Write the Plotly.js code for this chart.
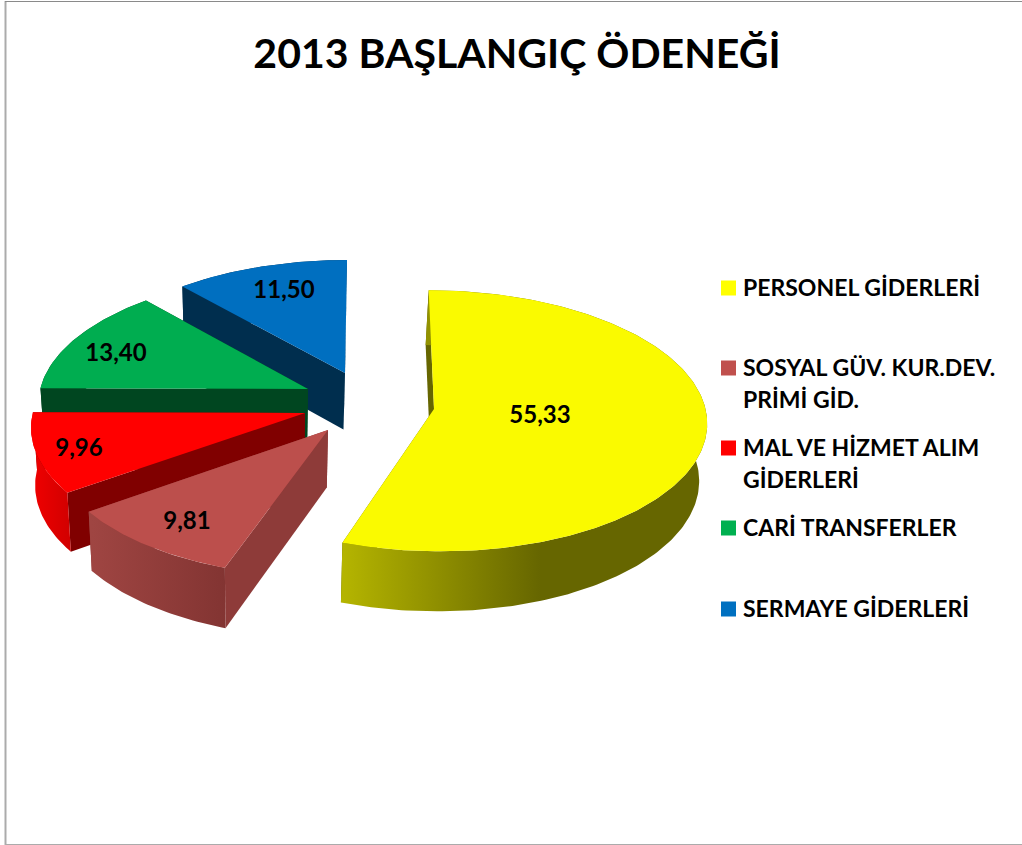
<!DOCTYPE html>
<html>
<head>
<meta charset="utf-8">
<script src="https://cdn.plot.ly/plotly-3.0.1.min.js"></script>
<style>html,body{margin:0;padding:0;background:#fff;overflow:hidden}#chart{width:1022px;height:845px}</style>
</head>
<body>
<div id="chart"></div>
<script>
const chartTitle = "2013 BAŞLANGIÇ ÖDENEĞİ";
const categories = ["PERSONEL GİDERLERİ", "SOSYAL GÜV. KUR.DEV. PRİMİ GİD.", "MAL VE HİZMET ALIM GİDERLERİ", "CARİ TRANSFERLER", "SERMAYE GİDERLERİ"];
const values = [55.33, 9.81, 9.96, 13.40, 11.50];
const valueLabels = ["55,33", "9,81", "9,96", "13,40", "11,50"];
const legendLines = [["PERSONEL GİDERLERİ"], ["SOSYAL GÜV. KUR.DEV.", "PRİMİ GİD."], ["MAL VE HİZMET ALIM", "GİDERLERİ"], ["CARİ TRANSFERLER"], ["SERMAYE GİDERLERİ"]];

const topColors = ["#FAFA00", "#BC4F4C", "#FF0000", "#00AD50", "#006FC0"];
const legendColors = ["#FFFF00", "#C0504D", "#FF0000", "#00B050", "#0070C0"];
const radialWallColors = ["#666600", "#8E3B39", "#800000", "#004620", "#002E4E"];
const outerWallGradients = [
  {start: 344, stop: 540, scale: [[0, "#B4B400"], [1, "#666600"]]},
  {start: 92, stop: 228, scale: [[0, "#9F4542"], [1, "#823432"]]},
  {start: 32, stop: 72, scale: [[0, "#F00000"], [1, "#D00000"]]},
  {start: 40, stop: 300, scale: [[0, "#004620"], [1, "#004620"]]},
  {start: 180, stop: 350, scale: [[0, "#002E4E"], [1, "#002E4E"]]}
];
// screen position of each slice's apex (explosion), label centres, legend rows
const apexX = [434, 328, 305, 308, 345];
const apexY = [409, 430, 413, 389, 373];
const labelX = [540, 187, 79, 116, 284];
const labelY = [416.5, 523, 449.5, 354.5, 291.5];
const legendY = [288, 368, 448, 528, 609];

// projection of the tilted pie
const C = {x: 370, y: 401, R: 270, B: 128, k: 0.09, depth: 57, depthPersp: 0.5, rot: 0, vx: 260, shrink: 0.018};
const s = Y => 1 / (1 + C.k * Y);
const proj = (X, Y, d) => {
  const x = C.x + C.R * X * s(Y);
  return {
    x: d ? x + (C.vx - x) * C.shrink : x,
    y: C.y - C.B * Y * s(Y) + (d ? C.depth * (1 + (s(Y) - 1) * C.depthPersp) : 0)
  };
};
function worldOf(px, py) {
  const v = (C.y - py) / C.B;
  const Y = v / (1 - C.k * v);
  return {X: (px - C.x) / C.R / s(Y), Y};
}
const rad = a => a * Math.PI / 180;

const total = values.reduce((a, b) => a + b, 0);
const traces = [];
function poly(pts, extra) {
  traces.push(Object.assign({
    type: "scatter", mode: "lines", x: pts.map(p => p.x), y: pts.map(p => p.y),
    fill: "toself", line: {width: 0}, hoverinfo: "skip", showlegend: false
  }, extra));
}
const slices = [];
let acc = 0;
values.forEach((v, i) => {
  slices.push({i, a0: C.rot + 360 * acc / total, a1: C.rot + 360 * (acc + v) / total});
  acc += v;
});
// painter's order: back slices first, the big yellow slice last
[4, 3, 2, 1, 0].forEach(i => {
  const {a0, a1} = slices[i];
  const o = worldOf(apexX[i], apexY[i]);
  const rim = (a, d) => proj(o.X + Math.sin(rad(a)), o.Y + Math.cos(rad(a)), d);
  const apex = d => proj(o.X, o.Y, d);
  const arcA = [];
  for (let a = a0; a < a1; a += 1) arcA.push(a);
  arcA.push(a1);
  // radial walls
  poly([apex(false), rim(a1, false), rim(a1, true), apex(true)], {fillcolor: radialWallColors[i]});
  poly([apex(false), rim(a0, false), rim(a0, true), apex(true)], {fillcolor: radialWallColors[i]});
  // outer wall
  const g = outerWallGradients[i];
  poly(arcA.map(a => rim(a, false)).concat(arcA.slice().reverse().map(a => rim(a, true))), {
    fillgradient: {type: "horizontal", colorscale: g.scale, start: g.start, stop: g.stop}
  });
  // top face
  poly([apex(false)].concat(arcA.map(a => rim(a, false))), {fillcolor: topColors[i], name: categories[i]});
});

traces.push({
  type: "scatter", mode: "text", x: labelX, y: labelY, text: valueLabels,
  textposition: "middle center", hoverinfo: "skip", showlegend: false,
  textfont: {family: "Lato", size: 24, color: "#000", weight: 700}
});
traces.push({
  type: "scatter", mode: "markers", x: legendY.map(() => 728.5), y: legendY,
  marker: {symbol: "square", size: 15, color: legendColors, line: {width: 0}},
  hoverinfo: "skip", showlegend: false
});

const annotations = [];
legendLines.forEach((lines, i) => lines.forEach((t, j) => annotations.push({
  xref: "x", yref: "y", x: 743, y: legendY[i] + 32 * j, text: t, showarrow: false,
  xanchor: "left", yanchor: "middle", xshift: -2, yshift: 1,
  font: {family: "Lato", size: 23, color: "#000", weight: 700}
})));

const layout = {
  width: 1022, height: 845,
  margin: {l: 0, r: 0, t: 0, b: 0},
  paper_bgcolor: "#fff", plot_bgcolor: "#fff",
  showlegend: false,
  title: {text: chartTitle, x: 517 / 1022, xanchor: "center", y: 1 - 54 / 845, yanchor: "middle", yref: "container",
    font: {family: "Lato", size: 41, color: "#000", weight: 700}},
  xaxis: {range: [0, 1022], visible: false, fixedrange: true},
  yaxis: {range: [845, 0], visible: false, fixedrange: true},
  annotations,
  shapes: [
    {type: "line", xref: "x", yref: "y", x0: 5.5, x1: 5.5, y0: 1, y1: 845, line: {color: "#ABABAB", width: 2}},
    {type: "line", xref: "x", yref: "y", x0: 5, x1: 1022, y0: 1.5, y1: 1.5, line: {color: "#8A8A8A", width: 1}},
    {type: "line", xref: "x", yref: "y", x0: 5, x1: 1022, y0: 844.5, y1: 844.5, line: {color: "#ABABAB", width: 1}}
  ]
};
Plotly.newPlot("chart", traces, layout, {displayModeBar: false, responsive: false});
</script>
</body>
</html>
